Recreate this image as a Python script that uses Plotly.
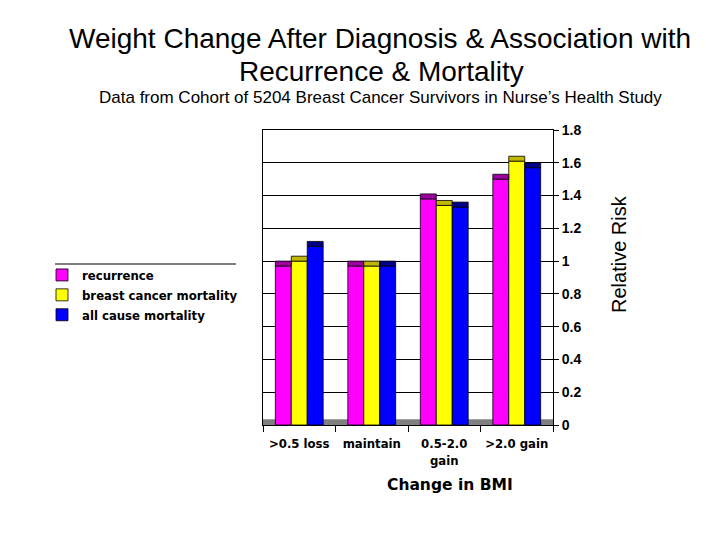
import plotly.graph_objects as go

categories = [">0.5 loss", "maintain", "0.5-2.0<br>gain", ">2.0 gain"]
series_names = ["recurrence", "breast cancer mortality", "all cause mortality"]
recurrence = [1.00, 1.00, 1.41, 1.53]
bc_mortality = [1.03, 1.00, 1.37, 1.64]
all_cause = [1.12, 1.00, 1.36, 1.60]
y_ticks = [0, 0.2, 0.4, 0.6, 0.8, 1, 1.2, 1.4, 1.6, 1.8]
y_tick_text = ["0", "0.2", "0.4", "0.6", "0.8", "1", "1.2", "1.4", "1.6", "1.8"]

face_colors = ["#FF00FF", "#FFFF00", "#0000FF"]
cap_colors = ["#A000A0", "#C0B800", "#000088"]
cap = 0.03


def px(X):
    return (X - 263) / 290


def py(Y):
    return (425 - Y) / 295


fig = go.Figure()
for i, (name, vals) in enumerate(zip(series_names, [recurrence, bc_mortality, all_cause])):
    fig.add_trace(go.Bar(
        x=categories, y=[v - cap for v in vals], name=name,
        offsetgroup=str(i), marker=dict(color=face_colors[i], line=dict(color="#000000", width=0.8)),
        showlegend=True,
    ))
for i, vals in enumerate([recurrence, bc_mortality, all_cause]):
    fig.add_trace(go.Bar(
        x=categories, y=[cap] * len(vals), base=[v - cap for v in vals],
        offsetgroup=str(i), marker=dict(color=cap_colors[i], line=dict(color="#000000", width=0.8)),
        showlegend=False, hoverinfo="skip",
    ))

fig.update_layout(
    width=720, height=540,
    margin=dict(l=255, r=175, t=122, b=123),
    paper_bgcolor="white", plot_bgcolor="white",
    barmode="group", bargap=0.34, bargroupgap=0,
    font=dict(family="Liberation Sans, Arial, sans-serif", color="black"),
    showlegend=True,
    legend=dict(x=px(42), y=py(260), xanchor="left", yanchor="top",
                font=dict(family="DejaVu Sans Condensed, DejaVu Sans, sans-serif", size=13, weight="bold"),
                tracegroupgap=0, bgcolor="rgba(0,0,0,0)"),
    xaxis=dict(showgrid=False, showline=True, linecolor="black", linewidth=1,
               ticks="outside", tickson="boundaries", ticklen=6, tickcolor="black",
               ticklabelstandoff=6, tickangle=0,
               tickfont=dict(family="DejaVu Sans Condensed, DejaVu Sans, sans-serif", size=13, weight="bold"),
               mirror=True),
    yaxis=dict(side="right", range=[0, 1.8], tickvals=y_ticks, ticktext=y_tick_text,
               showgrid=True, gridcolor="black", gridwidth=1,
               showline=True, linecolor="black", linewidth=1, mirror=True,
               ticks="outside", ticklen=5, tickcolor="black",
               tickfont=dict(family="Liberation Sans, Arial, sans-serif", size=14, weight="bold"),
               zeroline=False),
    shapes=[
        dict(type="rect", xref="paper", yref="y", x0=0, x1=1, y0=0, y1=0.035,
             fillcolor="#808080", line=dict(width=0), layer="below"),
        dict(type="line", xref="paper", yref="paper", x0=px(55), x1=px(236), y0=py(264), y1=py(264),
             line=dict(color="black", width=1)),
    ],
    annotations=[
        dict(text="Weight Change After Diagnosis & Association with",
             xref="paper", yref="paper", x=px(380), y=py(38),
             xanchor="center", yanchor="middle", showarrow=False,
             font=dict(size=28, family="Liberation Sans, Arial, sans-serif")),
        dict(text="Recurrence & Mortality",
             xref="paper", yref="paper", x=px(381), y=py(71),
             xanchor="center", yanchor="middle", showarrow=False,
             font=dict(size=28, family="Liberation Sans, Arial, sans-serif")),
        dict(text="Data from Cohort of 5204 Breast Cancer Survivors in Nurse\u2019s Health Study",
             xref="paper", yref="paper", x=px(380), y=py(98),
             xanchor="center", yanchor="middle", showarrow=False,
             font=dict(size=17, family="Liberation Sans, Arial, sans-serif")),
        dict(text="Relative Risk", xref="paper", yref="paper", x=px(619),
             y=py(254), xanchor="center", yanchor="middle", textangle=-90,
             showarrow=False, font=dict(size=20, family="Liberation Sans, Arial, sans-serif")),
        dict(text="Change in BMI", xref="paper", yref="paper", x=px(450),
             y=py(485), xanchor="center", yanchor="middle", showarrow=False,
             font=dict(size=15.5, family="DejaVu Sans, sans-serif", weight="bold")),
    ],
)

fig.write_html("out.html")
